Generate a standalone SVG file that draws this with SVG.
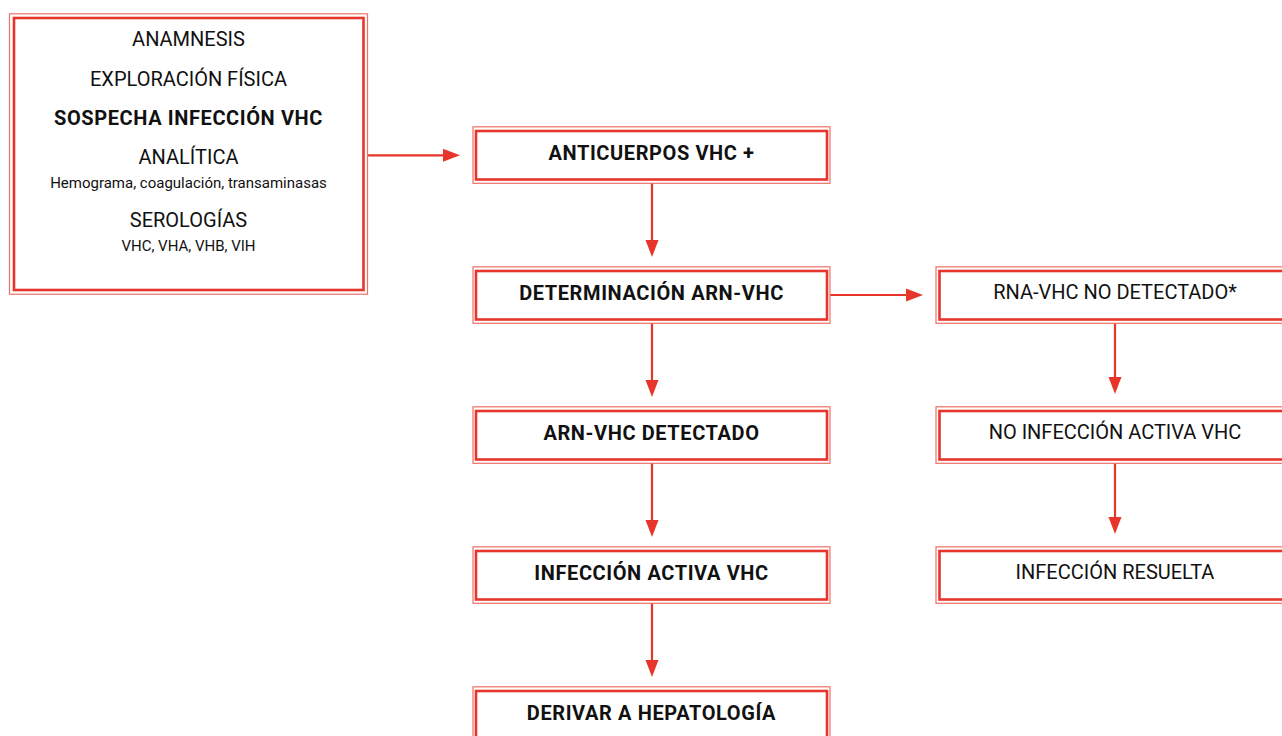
<svg xmlns="http://www.w3.org/2000/svg" width="1282" height="736" viewBox="0 0 1282 736">
<defs>
<style>
.o{fill:none;stroke:#f07068;stroke-width:1.2}
.i{fill:#fff;stroke:#e8352c;stroke-width:2.6}
.t{font-family:Roboto,"Liberation Sans",sans-serif;font-size:20px;fill:#111;text-anchor:middle}
.b{font-weight:bold;letter-spacing:0.6px}
.s{font-size:15px}
.c{stroke:#e8352c;stroke-width:2.2;fill:none}
.h{fill:#e8352c}
</style>
</defs>
<rect width="1282" height="736" fill="#fff"/>
<g id="connectors">
<line class="c" x1="367" y1="155.3" x2="444" y2="155.3"/>
<polygon class="h" points="443,148.8 460,155.3 443,161.8"/>
<line class="c" x1="830" y1="295" x2="907" y2="295"/>
<polygon class="h" points="906,288.5 923,295 906,301.5"/>
<line class="c" x1="652" y1="183" x2="652" y2="241"/>
<polygon class="h" points="645.5,240 658.5,240 652,257"/>
<line class="c" x1="652" y1="323" x2="652" y2="381"/>
<polygon class="h" points="645.5,380 658.5,380 652,397"/>
<line class="c" x1="652" y1="463" x2="652" y2="521"/>
<polygon class="h" points="645.5,520 658.5,520 652,537"/>
<line class="c" x1="652" y1="603" x2="652" y2="661"/>
<polygon class="h" points="645.5,660 658.5,660 652,677"/>
<line class="c" x1="1115" y1="323" x2="1115" y2="378"/>
<polygon class="h" points="1108.5,377 1121.5,377 1115,394"/>
<line class="c" x1="1115" y1="463" x2="1115" y2="518"/>
<polygon class="h" points="1108.5,517 1121.5,517 1115,534"/>
</g>
<g id="n-inicio">
<rect class="o" x="9.5" y="13.8" width="358" height="280.4"/>
<rect class="i" x="14" y="18" width="349.5" height="272"/>
<text class="t" x="188.5" y="46">ANAMNESIS</text>
<text class="t" x="188.5" y="86">EXPLORACIÓN FÍSICA</text>
<text class="t b" x="188.5" y="125">SOSPECHA INFECCIÓN VHC</text>
<text class="t" x="188.5" y="164">ANALÍTICA</text>
<text class="t s" x="188.5" y="188">Hemograma, coagulación, transaminasas</text>
<text class="t" x="188.5" y="227">SEROLOGÍAS</text>
<text class="t s" x="188.5" y="251">VHC, VHA, VHB, VIH</text>
</g>
<g id="n-anticuerpos">
<rect class="o" x="473" y="126.8" width="357" height="56.5"/>
<rect class="i" x="476" y="131" width="351" height="48.5"/>
<text class="t b" x="651.5" y="159.5">ANTICUERPOS VHC +</text>
</g>
<g id="n-determinacion">
<rect class="o" x="473" y="266.8" width="357" height="56.5"/>
<rect class="i" x="476" y="271" width="351" height="48.5"/>
<text class="t b" x="651.5" y="299.5">DETERMINACIÓN ARN-VHC</text>
</g>
<g id="n-detectado">
<rect class="o" x="473" y="406.8" width="357" height="56.5"/>
<rect class="i" x="476" y="411" width="351" height="48.5"/>
<text class="t b" x="651.5" y="439.5">ARN-VHC DETECTADO</text>
</g>
<g id="n-activa">
<rect class="o" x="473" y="546.8" width="357" height="56.5"/>
<rect class="i" x="476" y="551" width="351" height="48.5"/>
<text class="t b" x="651.5" y="579.5">INFECCIÓN ACTIVA VHC</text>
</g>
<g id="n-derivar">
<rect class="o" x="473" y="686.8" width="357" height="56.5"/>
<rect class="i" x="476" y="691" width="351" height="48.5"/>
<text class="t b" x="651.5" y="719.5">DERIVAR A HEPATOLOGÍA</text>
</g>
<g id="n-nodetectado">
<rect class="o" x="936" y="266.8" width="358" height="56.5"/>
<rect class="i" x="939.5" y="271" width="351" height="48.5"/>
<text class="t" x="1115" y="298.5">RNA-VHC NO DETECTADO*</text>
</g>
<g id="n-noactiva">
<rect class="o" x="936" y="406.8" width="358" height="56.5"/>
<rect class="i" x="939.5" y="411" width="351" height="48.5"/>
<text class="t" x="1115" y="438.5">NO INFECCIÓN ACTIVA VHC</text>
</g>
<g id="n-resuelta">
<rect class="o" x="936" y="546.8" width="358" height="56.5"/>
<rect class="i" x="939.5" y="551" width="351" height="48.5"/>
<text class="t" x="1115" y="578.5">INFECCIÓN RESUELTA</text>
</g>
</svg>
